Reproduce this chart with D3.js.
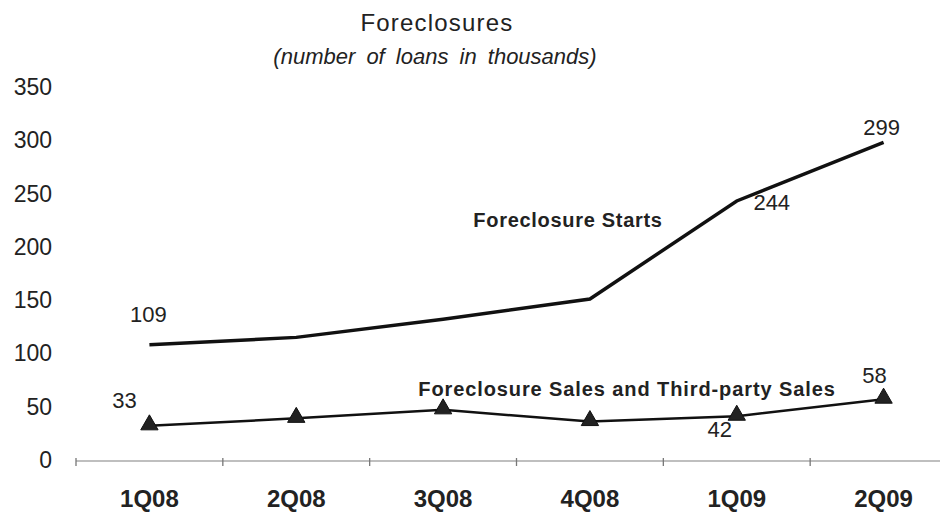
<!DOCTYPE html>
<html>
<head>
<meta charset="utf-8">
<script src="https://cdn.jsdelivr.net/npm/d3@7"></script>
<style>
  body { margin: 0; background: #fff; }
  text { font-family: "Liberation Sans", Arial, sans-serif; fill: #222; }
</style>
</head>
<body>
<script>
//Declare consts/global variables
    const width = 947;
    const height = 512;

//Data
    const quarters = ["1Q08", "2Q08", "3Q08", "4Q08", "1Q09", "2Q09"];
    const starts = [109, 116, 133, 152, 244, 299];
    const sales = [33, 40, 48, 37, 42, 58];
    const yTicks = [0, 50, 100, 150, 200, 250, 300, 350];
    // which points get a value label, and where it sits relative to the point
    const startsLabels = [{i: 0, dx: -1, dy: -23}, {i: 4, dx: 35, dy: 9}, {i: 5, dx: -2, dy: -7}];
    const salesLabels = [{i: 0, dx: -25, dy: -18}, {i: 4, dx: -17, dy: 21}, {i: 5, dx: -9, dy: -16}];

//Scales
    const xScale = d3.scaleBand()
                    .domain(quarters)
                    .range([76, 957]);

    const yScale = d3.scaleLinear()
                    .domain([0, 350])
                    .range([461, 88]);

    const xc = d => xScale(d) + xScale.bandwidth() / 2;

//SVG
    const svg = d3.select("body")
                .append("svg")
                .attr("width", width)
                .attr("height", height);

//Titles
    svg.append("text")
        .attr("x", 437).attr("y", 31)
        .attr("text-anchor", "middle")
        .style("font-size", "24px")
        .style("letter-spacing", "1.2px")
        .text("Foreclosures");

    svg.append("text")
        .attr("x", 435).attr("y", 64)
        .attr("text-anchor", "middle")
        .style("font-size", "22px")
        .style("font-style", "italic")
        .style("word-spacing", "5px")
        .text("(number of loans in thousands)");

//Y labels (no axis line in the original)
    svg.append("g")
        .selectAll("text")
        .data(yTicks)
        .enter()
        .append("text")
        .attr("x", 52)
        .attr("y", d => yScale(d) + 7)
        .attr("text-anchor", "end")
        .style("font-size", "23px")
        .text(d => d);

//X axis
    const bottomAxis = d3.axisBottom(xScale).tickSize(0).tickPadding(29);
    const xg = svg.append("g")
        .attr("transform", "translate(0," + yScale(0) + ")")
        .call(bottomAxis);
    xg.select(".domain").remove();
    xg.selectAll("text")
        .style("font-size", "24px")
        .style("font-weight", "bold")
        .attr("fill", "#222");

    xg.append("line")
        .attr("x1", 76).attr("x2", 940)
        .attr("stroke", "#aaa").attr("stroke-width", 1.5);

    // tick marks at the band edges
    xg.selectAll(".edge")
        .data(quarters)
        .enter()
        .append("line")
        .attr("x1", d => xScale(d)).attr("x2", d => xScale(d))
        .attr("y1", -3).attr("y2", 5)
        .attr("stroke", "#777").attr("stroke-width", 1.3);

//Lines
    const line = d3.line()
        .x((d, i) => xc(quarters[i]))
        .y(d => yScale(d));

    svg.append("path")
        .datum(starts)
        .attr("d", line)
        .attr("fill", "none")
        .attr("stroke", "#111")
        .attr("stroke-width", 3.5);

    svg.append("path")
        .datum(sales)
        .attr("d", line)
        .attr("fill", "none")
        .attr("stroke", "#111")
        .attr("stroke-width", 2.5);

//Triangles
    const tri = d3.symbol().type(d3.symbolTriangle).size(130);
    svg.selectAll(".tri")
        .data(sales)
        .enter()
        .append("path")
        .attr("d", tri)
        .attr("transform", (d, i) => "translate(" + xc(quarters[i]) + "," + (yScale(d) - 1) + ")")
        .attr("fill", "#222")
        .attr("stroke", "#111")
        .attr("stroke-width", 1);

//Value labels
    svg.selectAll(".vs")
        .data(startsLabels)
        .enter()
        .append("text")
        .attr("x", d => xc(quarters[d.i]) + d.dx)
        .attr("y", d => yScale(starts[d.i]) + d.dy)
        .attr("text-anchor", "middle")
        .style("font-size", "22px")
        .text(d => starts[d.i]);

    svg.selectAll(".vsl")
        .data(salesLabels)
        .enter()
        .append("text")
        .attr("x", d => xc(quarters[d.i]) + d.dx)
        .attr("y", d => yScale(sales[d.i]) + d.dy)
        .attr("text-anchor", "middle")
        .style("font-size", "22px")
        .text(d => sales[d.i]);

//Series names
    svg.append("text")
        .attr("x", 568).attr("y", 227)
        .attr("text-anchor", "middle")
        .style("font-size", "20px")
        .style("font-weight", "bold")
        .style("letter-spacing", "0.7px")
        .text("Foreclosure Starts");

    svg.append("text")
        .attr("x", 627).attr("y", 396)
        .attr("text-anchor", "middle")
        .style("font-size", "20px")
        .style("font-weight", "bold")
        .style("letter-spacing", "0.9px")
        .text("Foreclosure Sales and Third-party Sales");
</script>
</body>
</html>
